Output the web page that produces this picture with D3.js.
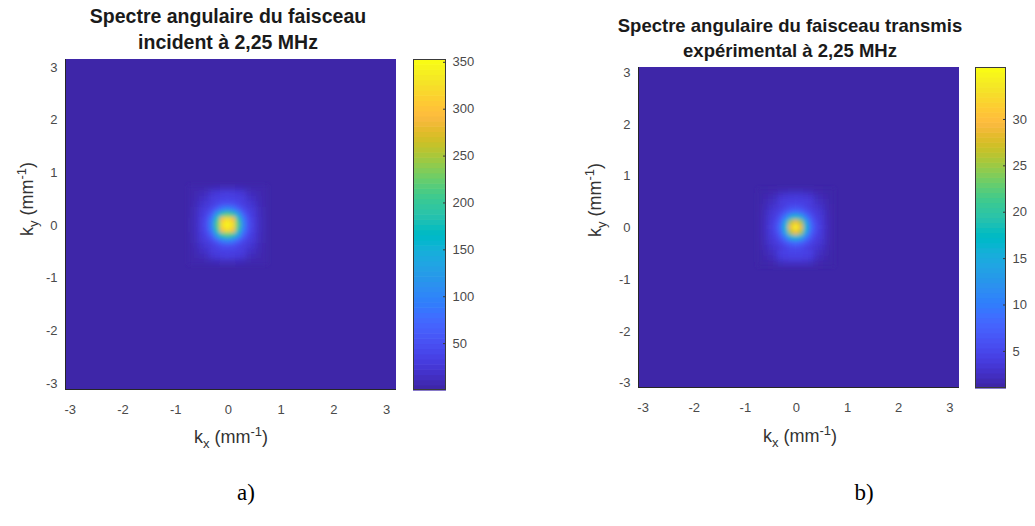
<!DOCTYPE html>
<html><head><meta charset="utf-8">
<script src="https://cdn.jsdelivr.net/npm/d3@7"></script>
<style>body{margin:0;background:#fff}svg{display:block}</style>
</head><body><svg id="chart" width="1035" height="526"></svg>
<script>
// ---- data ----
const kxGrid = [-0.7,-0.6,-0.5,-0.4,-0.3,-0.2,-0.1,0,0.1,0.2,0.3,0.4,0.5,0.6,0.7];
const kyGrid = [0.7,0.6,0.5,0.4,0.3,0.2,0.1,0,-0.1,-0.2,-0.3,-0.4,-0.5,-0.6,-0.7];
const incidentSpectrum = [
  [2,3,3,4,7,9,10,10,10,9,7,4,3,3,2],
  [2,4,8,11,20,24,27,28,27,24,20,11,8,4,2],
  [3,6,12,17,27,30,33,34,33,30,27,17,12,6,3],
  [3,8,17,23,28,36,45,48,45,36,28,23,17,8,3],
  [4,10,22,28,42,62,88,100,88,62,42,28,22,10,4],
  [4,11,25,36,62,125,190,215,190,125,62,36,25,11,4],
  [5,12,27,45,88,190,300,330,300,190,88,45,27,12,5],
  [5,12,28,48,100,215,330,353,330,215,100,48,28,12,5],
  [5,12,27,45,88,190,300,330,300,190,88,45,27,12,5],
  [4,11,25,36,62,125,190,215,190,125,62,36,25,11,4],
  [4,10,22,28,42,62,88,100,88,62,42,28,22,10,4],
  [3,8,17,23,28,36,45,48,45,36,28,23,17,8,3],
  [3,6,12,17,27,30,33,34,33,30,27,17,12,6,3],
  [2,4,8,11,20,24,27,28,27,24,20,11,8,4,2],
  [2,3,3,4,7,9,10,10,10,9,7,4,3,3,2]
];
const transmittedSpectrum = [
  [1,1.1,1.2,1.3,1.6,1.8,1.9,1.9,1.9,1.8,1.6,1.3,1.2,1.1,1],
  [1.1,1.3,1.6,1.9,2.8,3.1,3.3,3.4,3.3,3.1,2.8,1.9,1.6,1.3,1.1],
  [1.1,1.5,2,2.4,3.5,3.8,4,4.1,4,3.8,3.5,2.4,2,1.5,1.1],
  [1.2,1.7,2.4,3,3.5,4.2,5,5.2,5,4.2,3.5,3,2.4,1.7,1.2],
  [1.2,1.9,2.9,3.5,4.5,6,7.5,8.5,7.5,6,4.5,3.5,2.9,1.9,1.2],
  [1.3,2,3.2,4,6,9.5,14.5,17,14.5,9.5,6,4,3.2,2,1.3],
  [1.3,2.1,3.4,4.7,7.5,14.5,25.5,29.5,25.5,14.5,7.5,4.7,3.4,2.1,1.3],
  [1.3,2.2,3.5,5,8.5,17,29.5,35.6,29.5,17,8.5,5,3.5,2.2,1.3],
  [1.3,2.1,3.4,4.7,7.5,14.5,25.5,29.5,25.5,14.5,7.5,4.7,3.4,2.1,1.3],
  [1.3,2,3.2,4,6,9.5,14.5,17,14.5,9.5,6,4,3.2,2,1.3],
  [1.2,1.9,2.9,3.5,4.5,6,7.5,8.5,7.5,6,4.5,3.5,2.9,1.9,1.2],
  [1.2,1.7,2.4,3,3.5,4.2,5,5.2,5,4.2,3.5,3,2.4,1.7,1.2],
  [1.1,1.5,2,2.6,4,4.3,4.5,4.6,4.5,4.3,4,2.6,2,1.5,1.1],
  [1.1,1.3,1.7,2.2,3.3,3.6,3.8,3.9,3.8,3.6,3.3,2.2,1.7,1.3,1.1],
  [1,1.1,1.2,1.4,1.9,2.1,2.2,2.2,2.2,2.1,1.9,1.4,1.2,1.1,1]
];
const axisTicks = [-3,-2,-1,0,1,2,3];
const incidentColorTicks = [50,100,150,200,250,300,350];
const transmittedColorTicks = [5,10,15,20,25,30];
const incidentRange = [0, 353];
const transmittedRange = [1, 35.6];
const incidentTitle = ["Spectre angulaire du faisceau", "incident à 2,25 MHz"];
const transmittedTitle = ["Spectre angulaire du faisceau transmis", "expérimental à 2,25 MHz"];
const panelLabels = ["a)", "b)"];

// parula colormap (64 entries)
const parula = ["#3e26a8","#402ab4","#422ec0","#4332cb","#4537d5","#463cde","#4741e5","#4747eb",
"#484df0","#4852f4","#4758f8","#465efb","#4563fd","#4269fe","#3e6fff","#3875fe","#327cfc","#2f81fa",
"#2e87f7","#2d8cf3","#2b91ef","#2796eb","#259be8","#23a0e5","#20a5e3","#1ca9df","#18addb","#12b1d6",
"#08b5d0","#01b8ca","#02bac3","#0bbdbd","#19bfb6","#24c1ae","#2cc4a7","#31c69f","#37c897","#3fca8e",
"#4acb84","#57cc7a","#64cd6f","#72cd64","#81cc59","#8fcb4e","#9dc943","#abc739","#b9c431","#c5c22a",
"#d1bf27","#dcbd29","#e6bb2d","#f0ba36","#f8ba3d","#febe3c","#fec338","#fec934","#fccf30","#fad62d",
"#f7dc2a","#f5e327","#f5e924","#f6ef20","#f7f51b","#f9fb15"];

// ---- layout ----
const panels = [
  {data: incidentSpectrum, range: incidentRange, cticks: incidentColorTicks, title: incidentTitle,
   titleX: 228, titleY: [23, 49], titleSize: 19.5,
   box: [65, 59, 396, 390], xDom: [-3.09, 3.19], yDom: [-3.13, 3.15],
   cbar: [413, 59, 446, 390], xlabel: [231, 443], ylabel: [33, 199], tag: [246, 500]},
  {data: transmittedSpectrum, range: transmittedRange, cticks: transmittedColorTicks, title: transmittedTitle,
   titleX: 790, titleY: [32, 57], titleSize: 18.5,
   box: [638, 67, 959, 388], xDom: [-3.09, 3.19], yDom: [-3.1, 3.1],
   cbar: [975, 67, 1006, 388], xlabel: [800, 442], ylabel: [601, 200], tag: [864, 500]}
];

const svg = d3.select("#chart");
svg.append("rect").attr("width",1035).attr("height",526).attr("fill","#fff");
const defs = svg.append("defs");
defs.append("filter").attr("id","soft").attr("x","-20%").attr("y","-20%").attr("width","140%").attr("height","140%")
  .append("feGaussianBlur").attr("stdDeviation", 2.2);

const sans = "'Liberation Sans', Arial, Helvetica, sans-serif";

panels.forEach((p, pi) => {
  const [x0, y0, x1, y1] = p.box;
  const x = d3.scaleLinear().domain(p.xDom).range([x0, x1]);
  const y = d3.scaleLinear().domain(p.yDom).range([y1, y0]);
  const stops = parula.map((c, i) => p.range[0] + i * (p.range[1] - p.range[0]) / (parula.length - 1));
  const color = d3.scaleLinear().domain(stops).range(parula).clamp(true);

  const clipId = "clip" + pi;
  defs.append("clipPath").attr("id", clipId).append("rect")
    .attr("x", x0).attr("y", y0).attr("width", x1 - x0).attr("height", y1 - y0);

  const img = svg.append("g").attr("clip-path", `url(#${clipId})`);
  img.append("rect").attr("x", x0).attr("y", y0).attr("width", x1 - x0).attr("height", y1 - y0)
    .attr("fill", color(p.range[0]));

  const cells = [];
  p.data.forEach((row, r) => row.forEach((v, c) => cells.push({kx: kxGrid[c], ky: kyGrid[r], v})));
  const half = 0.05;
  img.append("g").attr("filter", "url(#soft)")
    .selectAll("rect").data(cells).join("rect")
    .attr("x", d => x(d.kx - half) - 0.3)
    .attr("y", d => y(d.ky + half) - 0.3)
    .attr("width", d => x(d.kx + half) - x(d.kx - half) + 0.6)
    .attr("height", d => y(d.ky - half) - y(d.ky + half) + 0.6)
    .attr("fill", d => color(d.v));

  // axes lines
  svg.append("line").attr("x1", x0 + 0.5).attr("x2", x0 + 0.5).attr("y1", y0).attr("y2", y1)
    .attr("stroke", "#262626").attr("stroke-width", 1);
  svg.append("line").attr("x1", x0).attr("x2", x1).attr("y1", y1 - 0.5).attr("y2", y1 - 0.5)
    .attr("stroke", "#262626").attr("stroke-width", 1);

  // tick labels
  const ax = svg.append("g").attr("transform", `translate(0,${y1})`)
    .call(d3.axisBottom(x).tickValues(axisTicks).tickSize(0).tickPadding(14.5));
  const ay = svg.append("g").attr("transform", `translate(${x0},0)`)
    .call(d3.axisLeft(y).tickValues(axisTicks).tickSize(0).tickPadding(7.5));
  [ax, ay].forEach(g => {
    g.select(".domain").remove();
    g.selectAll("text").attr("font-family", sans).attr("font-size", 13).attr("fill", "#4a4a4a")
      .text(d => d < 0 ? "-" + Math.abs(d) : String(d));
  });

  // colorbar
  const [cx0, cy0, cx1, cy1] = p.cbar;
  const cy = d3.scaleLinear().domain(p.range).range([cy1, cy0]);
  const bandH = (cy1 - cy0) / parula.length;
  svg.append("g").selectAll("rect").data(d3.range(parula.length)).join("rect")
    .attr("x", cx0).attr("width", cx1 - cx0)
    .attr("y", i => cy1 - (i + 1) * bandH)
    .attr("height", bandH + 0.6)
    .attr("fill", i => parula[i]);
  svg.append("rect").attr("x", cx0 + 0.5).attr("y", cy0 + 0.5).attr("width", cx1 - cx0 - 1).attr("height", cy1 - cy0 - 1)
    .attr("fill", "none").attr("stroke", "#3a3a3a").attr("stroke-width", 1);
  const cax = svg.append("g").attr("transform", `translate(${cx1},0)`)
    .call(d3.axisRight(cy).tickValues(p.cticks).tickSize(0).tickPadding(6.5));
  cax.select(".domain").remove();
  cax.selectAll("text").attr("font-family", sans).attr("font-size", 13).attr("fill", "#4a4a4a");
  cax.selectAll(".tick").append("line").attr("x1", -3).attr("x2", 0).attr("stroke", "#3a3a3a");

  // title
  const t = svg.append("text").attr("text-anchor", "middle").attr("font-family", sans)
    .attr("font-weight", "bold").attr("font-size", p.titleSize).attr("fill", "#1a1a1a");
  p.title.forEach((line, i) => t.append("tspan").attr("x", p.titleX).attr("y", p.titleY[i]).text(line));

  // x label
  const xl = svg.append("text").attr("x", p.xlabel[0]).attr("y", p.xlabel[1])
    .attr("text-anchor", "middle").attr("font-family", sans).attr("font-size", 18).attr("fill", "#333");
  xl.append("tspan").text("k");
  xl.append("tspan").attr("dy", 5).attr("font-size", 13).text("x");
  xl.append("tspan").attr("dy", -5).text(" (mm");
  xl.append("tspan").attr("dy", -7).attr("font-size", 13).text("-1");
  xl.append("tspan").attr("dy", 7).text(")");

  // y label
  const yl = svg.append("text").attr("transform", `translate(${p.ylabel[0]},${p.ylabel[1]}) rotate(-90)`)
    .attr("text-anchor", "middle").attr("font-family", sans).attr("font-size", 18).attr("fill", "#333");
  yl.append("tspan").text("k");
  yl.append("tspan").attr("dy", 5).attr("font-size", 13).text("y");
  yl.append("tspan").attr("dy", -5).text(" (mm");
  yl.append("tspan").attr("dy", -7).attr("font-size", 13).text("-1");
  yl.append("tspan").attr("dy", 7).text(")");

  // panel tag
  svg.append("text").attr("x", p.tag[0]).attr("y", p.tag[1]).attr("text-anchor", "middle")
    .attr("font-family", "'Liberation Serif', 'Times New Roman', serif").attr("font-size", 23).attr("fill", "#000")
    .text(panelLabels[pi]);
});
</script></body></html>
